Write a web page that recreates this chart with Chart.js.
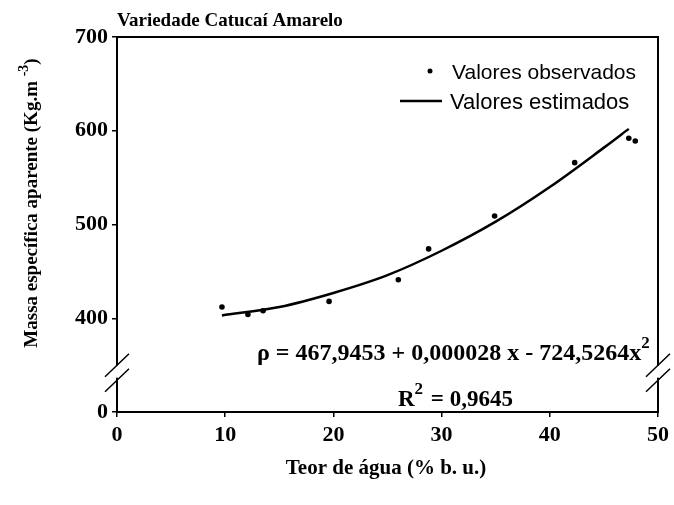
<!DOCTYPE html>
<html lang="pt">
<head>
<meta charset="UTF-8">
<title>Variedade Catucaí Amarelo</title>
<script src="https://cdn.jsdelivr.net/npm/chart.js"></script>
<style>
  html, body { margin: 0; padding: 0; background: #fff; }
  canvas { display: block; }
</style>
</head>
<body>
<canvas id="chart" width="674" height="505"></canvas>
<script>
const obsX = [9.7, 12.1, 13.5, 19.6, 26.0, 28.8, 34.9, 42.3, 47.3, 47.9];
const obsY = [412, 404, 408, 418, 441, 474, 509, 566, 592, 589];

// estimated curve
const estX = [9.7, 15, 20, 25, 30, 35, 40, 45, 47.3];
const estY = [403, 412, 427, 446, 472, 503, 540, 582, 602];

// y axis has a break: the bottom tick stands for 0
const yTicks = [300, 400, 500, 600, 700];
const yTickLabels = ['0', '400', '500', '600', '700'];
const xTicks = [0, 10, 20, 30, 40, 50];

const serif = '"Liberation Serif", "Times New Roman", serif';
const sans = '"Liberation Sans", Arial, sans-serif';

// draws text followed by a raised superscript, returns end x
function supText(c, x, y, text, sup, size, supSize, rise) {
  c.font = 'bold ' + size + 'px ' + serif;
  c.fillText(text, x, y);
  const w = c.measureText(text).width;
  c.font = 'bold ' + supSize + 'px ' + serif;
  c.fillText(sup, x + w, y - rise);
  return x + w + c.measureText(sup).width;
}

const decor = {
  id: 'decor',
  afterDraw(chart) {
    const c = chart.ctx;
    const a = chart.chartArea;
    const y = chart.scales.y;
    c.save();
    // frame
    c.strokeStyle = '#000';
    c.lineWidth = 2;
    c.strokeRect(a.left, a.top, a.right - a.left, a.bottom - a.top);

    // axis breaks on both sides
    const yb = y.getPixelForValue(343);
    [a.left, a.right].forEach(function (xb) {
      c.fillStyle = '#fff';
      c.fillRect(xb - 3, yb - 6, 6, 12);
      c.strokeStyle = '#000';
      c.lineWidth = 1.5;
      c.beginPath();
      c.moveTo(xb - 12, yb + 5); c.lineTo(xb + 12, yb - 18);
      c.moveTo(xb - 12, yb + 20); c.lineTo(xb + 12, yb - 3);
      c.stroke();
    });

    c.fillStyle = '#000';
    c.textBaseline = 'alphabetic';
    c.textAlign = 'left';

    // title
    c.font = 'bold 19px ' + serif;
    c.fillText('Variedade Catucaí Amarelo', 117, 26);

    // y axis title
    c.save();
    c.translate(37, 203);
    c.rotate(-Math.PI / 2);
    c.font = 'bold 19px ' + serif;
    const main = 'Massa específica aparente (Kg.m ';
    const w1 = c.measureText(main).width;
    c.font = 'bold 14px ' + serif;
    const w2 = c.measureText('-3').width;
    c.font = 'bold 19px ' + serif;
    const w3 = c.measureText(')').width;
    const sx = -(w1 + w2 + w3) / 2;
    const ex = supText(c, sx, 0, main, '-3', 19, 14, 9);
    c.font = 'bold 19px ' + serif;
    c.fillText(')', ex, 0);
    c.restore();

    // x axis title
    c.font = 'bold 21px ' + serif;
    c.textAlign = 'center';
    c.fillText('Teor de água (% b. u.)', 386, 474);

    // legend
    c.textAlign = 'left';
    c.beginPath();
    c.arc(430, 71, 2.5, 0, Math.PI * 2);
    c.fill();
    c.font = '21px ' + sans;
    c.fillText('Valores observados', 452, 79);
    c.lineWidth = 2.5;
    c.beginPath();
    c.moveTo(400, 101); c.lineTo(442, 101);
    c.stroke();
    c.font = '22px ' + sans;
    c.fillText('Valores estimados', 450, 109);

    // equation and R²
    supText(c, 257, 360, 'ρ = 467,9453 + 0,000028 x - 724,5264x', '2', 24, 17, 12);
    const er = supText(c, 398, 406, 'R', '2', 23, 17, 12);
    c.font = 'bold 23px ' + serif;
    c.fillText(' = 0,9645', er + 2, 406);
    c.restore();
  }
};

new Chart(document.getElementById('chart'), {
  type: 'scatter',
  data: {
    datasets: [
      {
        label: 'Valores observados',
        data: obsX.map((x, i) => ({ x: x, y: obsY[i] })),
        pointRadius: 2.8,
        pointBackgroundColor: '#000',
        pointBorderWidth: 0,
        showLine: false
      },
      {
        label: 'Valores estimados',
        data: estX.map((x, i) => ({ x: x, y: estY[i] })),
        showLine: true,
        borderColor: '#000',
        borderWidth: 2.5,
        pointRadius: 0,
        cubicInterpolationMode: 'monotone'
      }
    ]
  },
  options: {
    responsive: false,
    animation: false,
    layout: { padding: { left: 0, top: 37, right: 16, bottom: 0 } },
    plugins: { legend: { display: false }, tooltip: { enabled: false } },
    scales: {
      x: {
        type: 'linear',
        min: 0, max: 50,
        afterBuildTicks(s) { s.ticks = xTicks.map(v => ({ value: v })); },
        afterFit(s) { s.height = 93; },
        grid: { drawOnChartArea: false, tickLength: 5, color: '#000', lineWidth: 1.5 },
        border: { display: false },
        ticks: {
          color: '#000',
          padding: 5,
          font: { family: serif, size: 22, weight: 'bold' }
        }
      },
      y: {
        type: 'linear',
        min: 300, max: 700,
        afterBuildTicks(s) { s.ticks = yTicks.map(v => ({ value: v })); },
        afterFit(s) { s.width = 117; },
        grid: { drawOnChartArea: false, tickLength: 5, color: '#000', lineWidth: 1.5 },
        border: { display: false },
        ticks: {
          color: '#000',
          padding: 4,
          font: { family: serif, size: 22, weight: 'bold' },
          callback: function (v) { return yTickLabels[yTicks.indexOf(v)]; }
        }
      }
    }
  },
  plugins: [decor]
});
</script>
</body>
</html>
